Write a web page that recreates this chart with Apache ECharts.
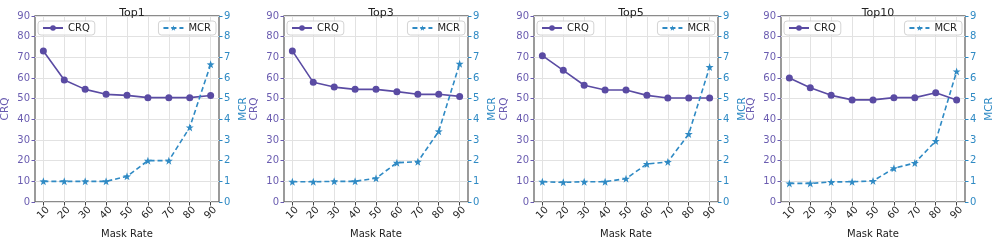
<!DOCTYPE html>
<html><head><meta charset="utf-8">
<script src="https://cdn.jsdelivr.net/npm/echarts@6/dist/echarts.min.js"></script>
<style>html,body{margin:0;padding:0;background:#fff}#c{width:996px;height:240px}</style>
</head><body><div id="c"></div>
<script>
const maskRates = [10, 20, 30, 40, 50, 60, 70, 80, 90];
const titles = ['Top1', 'Top3', 'Top5', 'Top10'];
const crqTop1 = [73.1, 59.0, 54.5, 52.1, 51.6, 50.5, 50.5, 50.5, 51.5];
const mcrTop1 = [1.0, 1.0, 1.0, 1.0, 1.24, 2.0, 2.0, 3.61, 6.66];
const crqTop3 = [73.1, 57.9, 55.6, 54.5, 54.5, 53.4, 52.1, 52.1, 51.1];
const mcrTop3 = [0.98, 0.98, 1.0, 1.0, 1.15, 1.9, 1.95, 3.42, 6.69];
const crqTop5 = [70.8, 63.7, 56.5, 54.2, 54.2, 51.6, 50.3, 50.3, 50.3];
const mcrTop5 = [0.98, 0.95, 0.98, 0.98, 1.13, 1.84, 1.94, 3.29, 6.53];
const crqTop10 = [60.0, 55.3, 51.6, 49.4, 49.4, 50.5, 50.5, 52.9, 49.4];
const mcrTop10 = [0.9, 0.9, 0.97, 0.98, 1.02, 1.63, 1.89, 2.95, 6.32];
const crqTicks = [0, 10, 20, 30, 40, 50, 60, 70, 80, 90];
const mcrTicks = [0, 1, 2, 3, 4, 5, 6, 7, 8, 9];

const crqAll = [crqTop1, crqTop3, crqTop5, crqTop10];
const mcrAll = [mcrTop1, mcrTop3, mcrTop5, mcrTop10];

const PURPLE = '#5a4ba3';
const PURPLE_TXT = '#6a5cb0';
const BLUE = '#2f8ac4';
const FONT = 'DejaVu Sans';
const lefts = [35, 284, 534, 781];
const W = 184, TOP = 16, H = 186;

const grid = [], xAxis = [], yAxis = [], series = [], legend = [], title = [];
titles.forEach((t, i) => {
  grid.push({left: lefts[i], top: TOP, width: W, height: H, show: true, borderColor: '#666', borderWidth: 1.3, backgroundColor: 'transparent', containLabel: false, outerBoundsMode: 'none'});
  title.push({text: t, left: lefts[i] + W / 2, top: 3, textAlign: 'center', textStyle: {fontFamily: FONT, fontSize: 11, fontWeight: 'normal', color: '#222'}});
  xAxis.push({
    type: 'value', gridIndex: i, min: 6, max: 94,
    name: 'Mask Rate', nameLocation: 'middle', nameGap: 27,
    nameTextStyle: {fontFamily: FONT, fontSize: 10, color: '#222'},
    axisLine: {show: false},
    axisTick: {show: true, customValues: maskRates, length: 3.5, lineStyle: {color: '#444'}},
    axisLabel: {customValues: maskRates, rotate: 45, align: 'center', verticalAlign: 'middle', margin: 11, fontFamily: FONT, fontSize: 10, color: '#222'},
    splitLine: {show: true, lineStyle: {color: '#e2e2e2', width: 1}}
  });
  yAxis.push({
    type: 'value', gridIndex: i, position: 'left', min: 0, max: 90, interval: 10,
    name: 'CRQ', nameLocation: 'middle', nameGap: 24,
    nameTextStyle: {fontFamily: FONT, fontSize: 10.5, color: PURPLE_TXT},
    axisLine: {show: false},
    axisTick: {show: true, length: 3.5, lineStyle: {color: PURPLE_TXT}},
    axisLabel: {fontFamily: FONT, fontSize: 10, color: PURPLE_TXT, margin: 5, formatter: v => crqTicks.includes(v) ? String(v) : ''},
    splitLine: {show: true, lineStyle: {color: '#e2e2e2', width: 1}}
  });
  yAxis.push({
    type: 'value', gridIndex: i, position: 'right', min: 0, max: 9, interval: 1,
    name: 'MCR', nameLocation: 'middle', nameGap: 19,
    nameTextStyle: {fontFamily: FONT, fontSize: 10.5, color: BLUE},
    axisLine: {show: false},
    axisTick: {show: true, length: 3.5, lineStyle: {color: BLUE}},
    axisLabel: {fontFamily: FONT, fontSize: 10, color: BLUE, margin: 5, formatter: v => mcrTicks.includes(v) ? String(v) : ''},
    splitLine: {show: false}
  });
  series.push({
    name: 'CRQ' + i, type: 'line', xAxisIndex: i, yAxisIndex: 2 * i,
    data: maskRates.map((m, k) => [m, crqAll[i][k]]),
    symbol: 'circle', symbolSize: 7, color: PURPLE,
    lineStyle: {color: PURPLE, width: 1.6}, itemStyle: {color: PURPLE},
    z: 3, animation: false
  });
  series.push({
    name: 'MCR' + i, type: 'line', xAxisIndex: i, yAxisIndex: 2 * i + 1,
    data: maskRates.map((m, k) => [m, mcrAll[i][k]]),
    symbol: 'path://M0,-10 L2.35,-3.24 L9.51,-3.09 L3.8,1.24 L5.88,8.09 L0,4 L-5.88,8.09 L-3.8,1.24 L-9.51,-3.09 L-2.35,-3.24 Z',
    symbolSize: 8, color: BLUE,
    lineStyle: {color: BLUE, width: 1.6, type: [5, 3]}, itemStyle: {color: BLUE},
    z: 4, animation: false
  });
  const legCommon = {
    top: TOP + 5, orient: 'horizontal', itemWidth: 20, itemHeight: 7, itemGap: 6,
    borderColor: '#d4d4d4', borderWidth: 1, borderRadius: 3, backgroundColor: 'rgba(255,255,255,0.85)',
    padding: [2, 5, 2, 4], selectedMode: false,
    textStyle: {fontFamily: FONT, fontSize: 10, color: '#222'},
    formatter: n => n.replace(/\d+$/, '')
  };
  legend.push(Object.assign({}, legCommon, {left: lefts[i] + 3, data: ['CRQ' + i]}));
  legend.push(Object.assign({}, legCommon, {right: 996 - (lefts[i] + W) + 3, data: ['MCR' + i]}));
});

const chart = echarts.init(document.getElementById('c'), null, {renderer: 'canvas'});
chart.setOption({animation: false, backgroundColor: '#fff', title, grid, xAxis, yAxis, series, legend});
</script></body></html>
